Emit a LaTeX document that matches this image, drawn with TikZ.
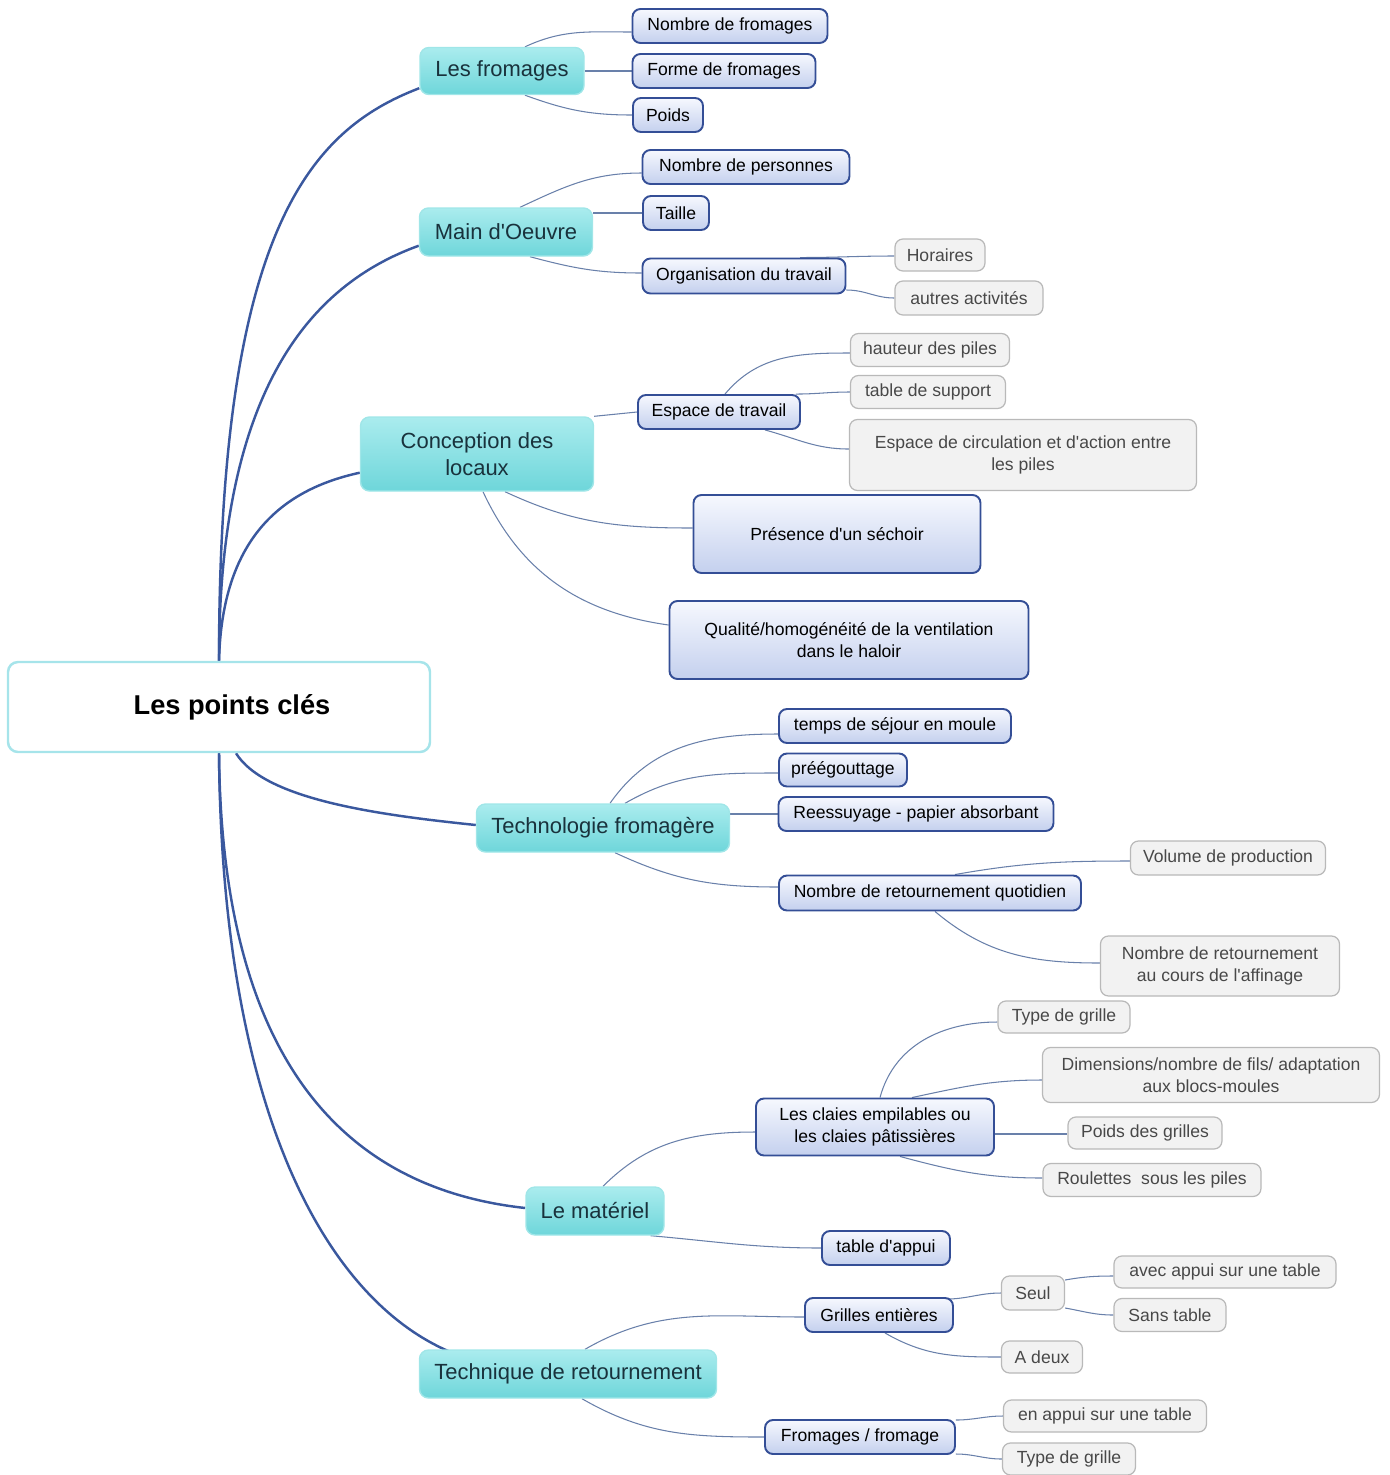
\documentclass[tikz,border=0pt]{standalone}
\usepackage{fontspec}
\setmainfont{Liberation Sans}
\usetikzlibrary{calc,backgrounds}
\definecolor{thickc}{RGB}{58,88,158}
\definecolor{thinc}{RGB}{105,128,170}
\definecolor{rootb}{RGB}{166,228,234}
\definecolor{cyanb}{RGB}{160,230,232}
\definecolor{cyantop}{RGB}{170,236,238}
\definecolor{cyanbot}{RGB}{110,214,218}
\definecolor{cyantext}{RGB}{25,50,60}
\definecolor{navyb}{RGB}{52,78,150}
\definecolor{bluetop}{RGB}{246,248,254}
\definecolor{bluebot}{RGB}{196,208,238}
\definecolor{greyb}{RGB}{185,185,185}
\definecolor{greyf}{RGB}{242,242,242}
\definecolor{greyt}{RGB}{72,72,72}
\newcommand{\apo}{\textquotesingle}
\begin{document}
\begin{tikzpicture}[x=0.02cm,y=-0.02cm,
  sz/.style 2 args={minimum width=#1*0.02cm, minimum height=#2*0.02cm},
  every node/.style={inner sep=0pt, align=center},
  rootbox/.style={draw=rootb, line width=1.4pt, fill=white, rounded corners=0.2cm,
    font=\fontsize{15.5}{18}\selectfont\bfseries},
  lvtwo/.style={draw=cyanb, line width=0.8pt, top color=cyantop, bottom color=cyanbot,
    rounded corners=0.18cm, text=cyantext, font=\fontsize{12.5}{15.3}\selectfont},
  lvthree/.style={draw=navyb, line width=1.1pt, top color=bluetop, bottom color=bluebot,
    rounded corners=0.16cm, text=black, font=\fontsize{10}{12.5}\selectfont},
  lvfour/.style={draw=greyb, line width=0.7pt, fill=greyf,
    rounded corners=0.16cm, text=greyt, font=\fontsize{10}{12.5}\selectfont},
  thick link/.style={draw=thickc, line width=1.4pt},
  thin link/.style={draw=thinc, line width=0.6pt}
]
\useasboundingbox (0,0) rectangle (1390,1475);

% root
\node[rootbox, sz={422}{90}] (root) at (219,707) {\hspace*{0.52cm}Les points clés};

% level 2
\node[lvtwo, sz={164}{47}] (lf) at (502,71) {Les fromages};
\node[lvtwo, sz={173}{48}] (mo) at (506,232) {Main d\apo Oeuvre};
\node[lvtwo, sz={233}{74}] (cl) at (477,454) {Conception des\\locaux};
\node[lvtwo, sz={253}{48}] (tf) at (603,828) {Technologie fromagère};
\node[lvtwo, sz={138}{48}] (lm) at (595,1211) {Le matériel};
\node[lvtwo, sz={297}{48}] (tr) at (568,1374) {Technique de retournement};

% level 3
\node[lvthree, sz={195}{34}] (nf) at (730,26) {Nombre de fromages};
\node[lvthree, sz={183}{34}] (ff) at (724,71) {Forme de fromages};
\node[lvthree, sz={70}{34}] (po) at (668,115) {Poids};
\node[lvthree, sz={207}{34}] (np) at (746,167) {Nombre de personnes};
\node[lvthree, sz={66}{34}] (ta) at (676,213) {Taille};
\node[lvthree, sz={203}{35}] (ot) at (744,276) {Organisation du travail};
\node[lvthree, sz={162}{34}] (et) at (719,412) {Espace de travail};
\node[lvthree, sz={287}{78}] (ps) at (837,534) {Présence d\apo un séchoir};
\node[lvthree, sz={359}{78}] (qh) at (849,640) {Qualité/homogénéité de la ventilation\\dans le haloir};
\node[lvthree, sz={232}{34}] (ts) at (895,726) {temps de séjour en moule};
\node[lvthree, sz={128}{33}] (pg) at (843,770) {préégouttage};
\node[lvthree, sz={275}{34}] (re) at (916,814) {Reessuyage - papier absorbant};
\node[lvthree, sz={302}{35}] (nr) at (930,893) {Nombre de retournement quotidien};
\node[lvthree, sz={238}{57}] (lc) at (875,1127) {Les claies empilables ou\\les claies pâtissières};
\node[lvthree, sz={128}{34}] (tap) at (886,1248) {table d\apo appui};
\node[lvthree, sz={148}{34}] (ge) at (879,1315) {Grilles entières};
\node[lvthree, sz={190}{34}] (fr) at (860,1437) {Fromages / fromage};

% level 4
\node[lvfour, sz={90}{32}] (ho) at (940,255) {Horaires};
\node[lvfour, sz={148}{34}] (aa) at (969,298) {autres activités};
\node[lvfour, sz={159}{33}] (hp) at (930,350) {hauteur des piles};
\node[lvfour, sz={155}{33}] (tsu) at (928,392) {table de support};
\node[lvfour, sz={347}{71}] (ec) at (1023,455) {Espace de circulation et d\apo action entre\\les piles};
\node[lvfour, sz={195}{34}] (vp) at (1228,858) {Volume de production};
\node[lvfour, sz={239}{60}] (nra) at (1220,966) {Nombre de retournement\\au cours de l\apo affinage};
\node[lvfour, sz={132}{32}] (tg) at (1064,1017) {Type de grille};
\node[lvfour, sz={337}{55}] (di) at (1211,1075) {Dimensions/nombre de fils/ adaptation\\aux blocs-moules};
\node[lvfour, sz={154}{32}] (pgr) at (1145,1133) {Poids des grilles};
\node[lvfour, sz={218}{33}] (ro) at (1152,1180) {Roulettes~ sous les piles};
\node[lvfour, sz={63}{34}] (se) at (1033,1293) {Seul};
\node[lvfour, sz={222}{32}] (av) at (1225,1272) {avec appui sur une table};
\node[lvfour, sz={112}{33}] (st) at (1170,1315) {Sans table};
\node[lvfour, sz={81}{32}] (ad) at (1042,1357) {A deux};
\node[lvfour, sz={203}{32}] (ea) at (1105,1416) {en appui sur une table};
\node[lvfour, sz={133}{32}] (tg2) at (1069,1459) {Type de grille};

\begin{scope}[on background layer]
% thick links from root
\draw[thick link] (root.north) .. controls (219,230) and (310,130) .. ($(lf.south west)+(0,-7)$);
\draw[thick link] (root.north) .. controls (219,390) and (310,285) .. ($(mo.south west)+(0,-11)$);
\draw[thick link] (root.north) .. controls (222,540) and (280,490) .. ($(cl.south west)+(0,-19)$);
\draw[thick link] ($(root.south)+(17,0)$) .. controls (265,800) and (380,815) .. ($(tf.west)+(0,-3)$);
\draw[thick link] (root.south) .. controls (222,1080) and (360,1190) .. ($(lm.west)+(0,-3)$);
\draw[thick link] (root.south) .. controls (222,1120) and (330,1300) .. ($(tr.north west)+(30,2)$);

% Les fromages
\draw[thin link] ($(lf.north)+(23,0)$) to[out=25,in=180] ($(nf.west)+(0,6)$);
\draw[thin link] (lf.east) -- (ff.west);
\draw[thin link] ($(lf.south)+(23,0)$) to[out=-20,in=180] (po.west);
% Main d'Oeuvre
\draw[thin link] ($(mo.north)+(14,0)$) to[out=25,in=180] ($(np.west)+(0,6)$);
\draw[thin link] ($(mo.east)+(0,-19)$) -- (ta.west);
\draw[thin link] ($(mo.south)+(24,0)$) to[out=-15,in=180] ($(ot.west)+(0,-3)$);
% Organisation
\draw[thin link] ($(ot.north)+(56,0)$) to[out=0,in=180] ($(ho.west)+(0,1)$);
\draw[thin link] ($(ot.east)+(0,14)$) to[out=0,in=180] (aa.west);
% Conception
\draw[thin link] (cl.north east) -- (et.west);
\draw[thin link] ($(cl.south)+(28,0)$) to[out=-25,in=180] ($(ps.west)+(0,-6)$);
\draw[thin link] ($(cl.south)+(6,0)$) to[out=-65,in=172] ($(qh.west)+(0,-15)$);
% Espace de travail
\draw[thin link] ($(et.north)+(6,0)$) to[out=50,in=180] ($(hp.west)+(0,3)$);
\draw[thin link] ($(et.north east)+(-5,0)$) to[out=0,in=180] (tsu.west);
\draw[thin link] ($(et.south)+(46,0)$) to[out=-15,in=180] ($(ec.west)+(0,-6)$);
% Technologie
\draw[thin link] ($(tf.north)+(7,0)$) to[out=55,in=180] ($(ts.west)+(0,8)$);
\draw[thin link] ($(tf.north)+(22,0)$) to[out=30,in=180] ($(pg.west)+(0,3)$);
\draw[thin link] ($(tf.east)+(0,-14)$) -- (re.west);
\draw[thin link] ($(tf.south)+(12,0)$) to[out=-25,in=180] ($(nr.west)+(0,-6)$);
% Nombre de retournement quotidien
\draw[thin link] ($(nr.north)+(25,0)$) to[out=10,in=180] ($(vp.west)+(0,3)$);
\draw[thin link] ($(nr.south)+(5,0)$) to[out=-40,in=180] ($(nra.west)+(0,-3)$);
% Le materiel
\draw[thin link] ($(lm.north)+(8,0)$) to[out=45,in=180] ($(lc.west)+(0,5)$);
\draw[thin link] ($(lm.south east)+(-14,0)$) to[out=-5,in=180] (tap.west);
% Les claies
\draw[thin link] ($(lc.north)+(5,0)$) to[out=75,in=180] ($(tg.west)+(0,5)$);
\draw[thin link] ($(lc.north)+(37,0)$) to[out=12,in=180] ($(di.west)+(0,5)$);
\draw[thin link] ($(lc.east)+(0,7)$) -- ($(pgr.west)+(0,1)$);
\draw[thin link] ($(lc.south)+(25,0)$) to[out=-15,in=180] ($(ro.west)+(0,-2)$);
% Technique
\draw[thin link] ($(tr.north)+(17,0)$) to[out=30,in=180] ($(ge.west)+(0,2)$);
\draw[thin link] ($(tr.south)+(14,0)$) to[out=-30,in=180] (fr.west);
% Grilles entieres
\draw[thin link] ($(ge.north east)+(-8,2)$) to[out=0,in=180] (se.west);
\draw[thin link] ($(ge.south)+(6,0)$) to[out=-30,in=180] (ad.west);
% Seul
\draw[thin link] ($(se.east)+(0,-13)$) to[out=10,in=180] ($(av.west)+(0,4)$);
\draw[thin link] ($(se.east)+(0,15)$) to[out=-10,in=180] (st.west);
% Fromages / fromage
\draw[thin link] ($(fr.east)+(0,-17)$) to[out=0,in=180] (ea.west);
\draw[thin link] ($(fr.east)+(0,17)$) to[out=0,in=180] (tg2.west);
\end{scope}
\end{tikzpicture}
\end{document}
